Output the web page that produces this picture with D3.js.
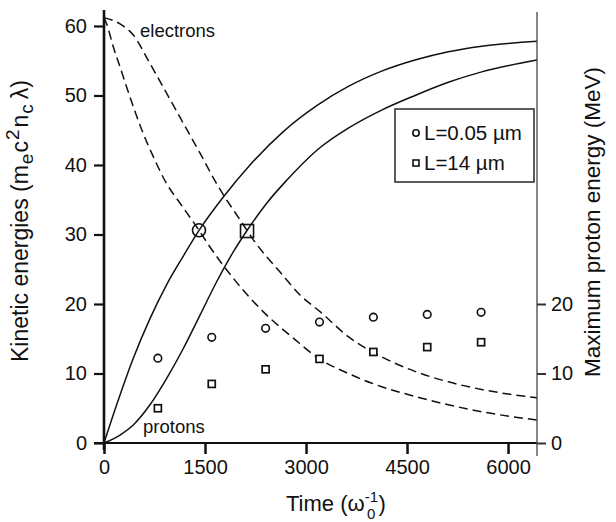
<!DOCTYPE html>
<html>
<head>
<meta charset="utf-8">
<script src="https://cdn.jsdelivr.net/npm/d3@7"></script>
<style>
  body { margin: 0; background: #fff; }
  svg { display: block; font-family: "Liberation Sans", Arial, sans-serif; }
</style>
</head>
<body>
<svg id="chart" width="616" height="522"></svg>
<script>
/*  Data  */
// electrons (dashed), L = 0.05 um
const elecThinT = [0, 40, 138, 238, 337, 435, 584, 732, 931, 1129, 1326, 1411, 1525, 1920, 2416, 2811, 3183, 3628, 4123, 4618, 5113, 5609, 6430];
const elecThinE = [61.2, 60.3, 57.0, 54.1, 51.2, 48.4, 44.5, 41.2, 37.3, 34.5, 31.8, 30.6, 28.9, 23.7, 18.4, 15.1, 12.2, 10.0, 8.1, 6.7, 5.5, 4.5, 3.3];
// electrons (dashed), L = 14 um
const elecThickT = [0, 238, 435, 683, 931, 1178, 1426, 1673, 2069, 2213, 2614, 2911, 3208, 3628, 4123, 4618, 5113, 5609, 6430];
const elecThickE = [61.2, 60.3, 58.7, 54.6, 50.3, 46.0, 41.7, 37.3, 31.4, 29.3, 24.6, 21.3, 18.9, 15.3, 12.4, 10.3, 8.8, 7.7, 6.5];
// protons (solid), L = 0.05 um
const protThinT = [0, 188, 435, 683, 931, 1178, 1411, 1772, 2168, 2663, 3170, 3628, 4123, 4618, 5113, 5609, 6430];
const protThinE = [0, 5.5, 12.2, 17.9, 22.8, 26.9, 30.6, 35.4, 40.0, 44.8, 48.6, 51.3, 53.5, 55.1, 56.3, 57.1, 57.8];
// protons (solid), L = 14 um
const protThickT = [0, 238, 435, 683, 931, 1178, 1426, 1673, 1920, 2119, 2416, 2713, 3170, 3628, 4123, 4618, 5113, 5609, 6430];
const protThickE = [0, 1.15, 2.6, 5.5, 9.3, 13.6, 18.4, 23.2, 27.5, 30.5, 34.5, 37.8, 42.2, 45.3, 47.9, 50.0, 51.9, 53.4, 55.1];

// maximum proton energy (MeV), right axis
const pointT   = [800, 1600, 2400, 3200, 4000, 4800, 5600];
const mevThin  = [12.2, 15.2, 16.5, 17.4, 18.1, 18.5, 18.8];
const mevThick = [5.0, 8.5, 10.6, 12.1, 13.1, 13.8, 14.5];

// crossing points marked on the curves
const crossT = [1411, 2124];
const crossE = [30.6, 30.5];

const xTicks  = [0, 1500, 3000, 4500, 6000];
const yTicks  = [0, 10, 20, 30, 40, 50, 60];
const y2Ticks = [0, 10, 20];
const legendLabels = ["L=0.05 \u00b5m", "L=14 \u00b5m"];

/*  Layout  */
const svg = d3.select("#chart");
const pLeft = 104, pRight = 537, pTop = 10, pBottom = 443;

const x  = d3.scaleLinear().domain([0, 6430]).range([pLeft, pRight]);
const y  = d3.scaleLinear().domain([0, 62.3]).range([pBottom, pTop]);
const y2 = d3.scaleLinear().domain([0, 62.3]).range([pBottom, pTop]);

const zip = (ts, es) => ts.map((t, i) => ({t: t, e: es[i]}));

const line = d3.line()
  .x(d => x(d.t))
  .y(d => y(d.e))
  .curve(d3.curveMonotoneX);

/* ---------- curves ---------- */
[[elecThinT, elecThinE], [elecThickT, elecThickE]].forEach(([t, e]) => {
  svg.append("path")
    .datum(zip(t, e))
    .attr("fill", "none")
    .attr("stroke", "#111")
    .attr("stroke-width", 1.5)
    .attr("stroke-dasharray", "9 5")
    .attr("d", line);
});

[[protThinT, protThinE], [protThickT, protThickE]].forEach(([t, e]) => {
  svg.append("path")
    .datum(zip(t, e))
    .attr("fill", "none")
    .attr("stroke", "#111")
    .attr("stroke-width", 1.5)
    .attr("d", line);
});

/* ---------- crossing markers ---------- */
svg.append("circle")
  .attr("cx", x(crossT[0])).attr("cy", y(crossE[0])).attr("r", 6.5)
  .attr("fill", "none").attr("stroke", "#111").attr("stroke-width", 1.6);
svg.append("rect")
  .attr("x", x(crossT[1]) - 6.5).attr("y", y(crossE[1]) - 6.5)
  .attr("width", 13).attr("height", 13)
  .attr("fill", "none").attr("stroke", "#111").attr("stroke-width", 1.6);

/* ---------- scatter (right axis) ---------- */
svg.selectAll(".pt-thin").data(zip(pointT, mevThin)).join("circle")
  .attr("class", "pt-thin")
  .attr("cx", d => x(d.t)).attr("cy", d => y2(d.e)).attr("r", 3.8)
  .attr("fill", "#fff").attr("stroke", "#111").attr("stroke-width", 1.6);

svg.selectAll(".pt-thick").data(zip(pointT, mevThick)).join("rect")
  .attr("class", "pt-thick")
  .attr("x", d => x(d.t) - 3.5).attr("y", d => y2(d.e) - 3.5)
  .attr("width", 7).attr("height", 7)
  .attr("fill", "#fff").attr("stroke", "#111").attr("stroke-width", 1.7);

/* ---------- axes ---------- */
const gx = svg.append("g")
  .attr("transform", `translate(0,${pBottom})`)
  .call(d3.axisBottom(x).tickValues(xTicks).tickSize(11).tickPadding(6).tickFormat(d3.format("d")));
const gy = svg.append("g")
  .attr("transform", `translate(${pLeft},0)`)
  .call(d3.axisLeft(y).tickValues(yTicks).tickSize(10).tickPadding(7));
const gy2 = svg.append("g")
  .attr("transform", `translate(${pRight},0)`)
  .call(d3.axisRight(y2).tickValues(y2Ticks).tickSize(9).tickPadding(5));

[gx, gy, gy2].forEach(g => {
  g.select(".domain").remove();
  g.selectAll("text").attr("font-size", 20).attr("fill", "#111")
    .attr("font-family", "Liberation Sans, Arial, sans-serif");
});
gx.selectAll("line").attr("stroke", "#111").attr("stroke-width", 2.5);
gy.selectAll("line").attr("stroke", "#111").attr("stroke-width", 2.2);
gy2.selectAll("line").attr("stroke", "#333").attr("stroke-width", 2);

// axis lines
svg.append("line").attr("x1", pLeft - 10).attr("x2", pRight)
  .attr("y1", pBottom).attr("y2", pBottom)
  .attr("stroke", "#111").attr("stroke-width", 2);
svg.append("line").attr("x1", pLeft).attr("x2", pLeft)
  .attr("y1", pTop).attr("y2", pBottom + 7)
  .attr("stroke", "#111").attr("stroke-width", 2.6);
svg.append("line").attr("x1", pRight).attr("x2", pRight)
  .attr("y1", pTop + 2).attr("y2", pBottom + 13)
  .attr("stroke", "#444").attr("stroke-width", 1.3);

/* ---------- legend ---------- */
const lg = svg.append("g");
lg.append("rect")
  .attr("x", 395).attr("y", 109).attr("width", 139).attr("height", 73)
  .attr("fill", "#fff").attr("stroke", "#333").attr("stroke-width", 1.6);
lg.append("circle").attr("cx", 416).attr("cy", 133).attr("r", 3.2)
  .attr("fill", "#fff").attr("stroke", "#111").attr("stroke-width", 1.6);
lg.append("rect").attr("x", 413).attr("y", 160).attr("width", 6).attr("height", 6)
  .attr("fill", "#fff").attr("stroke", "#111").attr("stroke-width", 1.6);
lg.selectAll("text").data(legendLabels).join("text")
  .attr("x", 424).attr("y", (d, i) => 140 + i * 30)
  .attr("font-size", 20.5).attr("fill", "#111")
  .text(d => d);

/* ---------- curve labels ---------- */
svg.append("text").attr("x", 140).attr("y", 37)
  .attr("font-size", 18.5).attr("fill", "#111").text("electrons");
svg.append("text").attr("x", 143).attr("y", 433)
  .attr("font-size", 18.5).attr("fill", "#111").text("protons");

/* ---------- axis titles ---------- */
const xt = svg.append("text")
  .attr("x", 286).attr("y", 511)
  .attr("font-size", 22).attr("fill", "#111");
xt.append("tspan").text("Time (\u03c9");
xt.append("tspan").attr("font-size", 15).attr("dy", -9).text("-1");
xt.append("tspan").attr("font-size", 15).attr("dx", -11).attr("dy", 17).text("0");
xt.append("tspan").attr("dx", 3).attr("dy", -8).text(")");

const yt = svg.append("text")
  .attr("transform", "translate(28,221) rotate(-90)")
  .attr("text-anchor", "middle")
  .attr("font-size", 23).attr("fill", "#111");
yt.append("tspan").text("Kinetic energies (m");
yt.append("tspan").attr("font-size", 19).attr("dx", 1).attr("dy", 5).text("e");
yt.append("tspan").attr("dx", 1).attr("dy", -5).text("c");
yt.append("tspan").attr("font-size", 19).attr("dx", 1).attr("dy", -9).text("2");
yt.append("tspan").attr("dx", 2).attr("dy", 9).text("n");
yt.append("tspan").attr("font-size", 19).attr("dx", 1).attr("dy", 5).text("c");
yt.append("tspan").attr("dx", 5).attr("dy", -5).text("\u03bb)");

svg.append("text")
  .attr("transform", "translate(600,222) rotate(-90)")
  .attr("text-anchor", "middle")
  .attr("font-size", 22.5).attr("fill", "#111")
  .text("Maximum proton energy (MeV)");
</script>
</body>
</html>
